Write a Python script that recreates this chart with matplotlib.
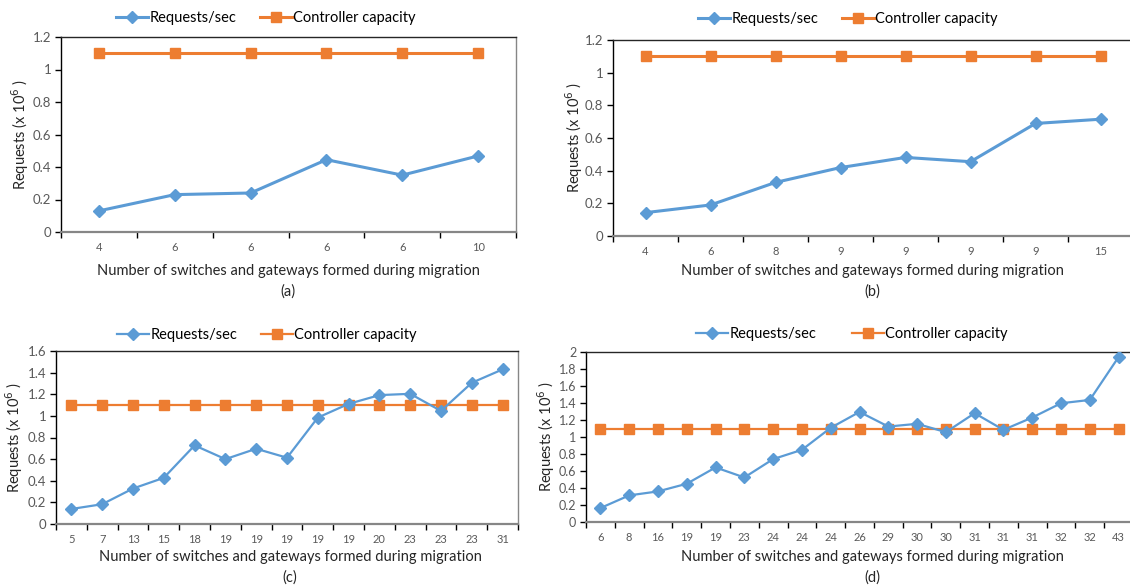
import matplotlib
matplotlib.use("Agg")
import matplotlib.pyplot as plt
from matplotlib.ticker import FuncFormatter, FixedLocator

plt.rcParams['font.family'] = ['Lato', 'DejaVu Sans']

# ---------------- data ----------------
labels_a = ["4", "6", "6", "6", "6", "10"]
req_a = [0.13, 0.23, 0.24, 0.445, 0.35, 0.468]
cap_a = [1.1, 1.1, 1.1, 1.1, 1.1, 1.1]

labels_b = ["4", "6", "8", "9", "9", "9", "9", "15"]
req_b = [0.143, 0.19, 0.328, 0.419, 0.481, 0.455, 0.689, 0.715]
cap_b = [1.1, 1.1, 1.1, 1.1, 1.1, 1.1, 1.1, 1.1]

labels_c = ["5", "7", "13", "15", "18", "19", "19", "19", "19", "19", "20", "23", "23", "23", "31"]
req_c = [0.139, 0.183, 0.328, 0.427, 0.727, 0.600, 0.696, 0.613, 0.984, 1.111, 1.192, 1.204, 1.046, 1.306, 1.430]
cap_c = [1.1] * 15

labels_d = ["6", "8", "16", "19", "19", "23", "24", "24", "24", "26", "29", "30", "30", "31", "31", "31", "32", "32", "43"]
req_d = [0.164, 0.313, 0.360, 0.450, 0.642, 0.524, 0.740, 0.849, 1.108, 1.295, 1.123, 1.155, 1.057, 1.280, 1.084, 1.229, 1.397, 1.436, 1.941]
cap_d = [1.1] * 19

ylims = {"a": (1.2, 0.2), "b": (1.2, 0.2), "c": (1.6, 0.2), "d": (2.0, 0.2)}

BLUE = "#5B9BD5"
ORANGE = "#ED7D31"
GREY = "#595959"

W, H = 1130, 588
fig = plt.figure(figsize=(W / 100, H / 100), dpi=100)


def box(l, t, r, b):
    return [l / W, 1 - b / H, (r - l) / W, (b - t) / H]


panels = [
    # key, labels, req, cap, axes box (l,t,r,b), right spine, legend center, xlabel center, lw, ylabel x(px), ytick fs
    ("a", labels_a, req_a, cap_a, (61, 37, 516, 232), True, (266, 18), (288, 271), 2.2, 20, 9.5),
    ("b", labels_b, req_b, cap_b, (613, 40, 1133, 236), False, (848, 19), (872, 271), 2.2, 574, 9.5),
    ("c", labels_c, req_c, cap_c, (56, 351, 518, 524), True, (267, 335), (290, 557), 1.6, 14, 9.5),
    ("d", labels_d, req_d, cap_d, (586, 352, 1133, 522), False, (852, 334), (872, 557), 1.6, 546, 9),
]

for key, labs, req, cap, bx, rspine, legc, xlc, lw, ylx, yfs in panels:
    ax = fig.add_axes(box(*bx))
    n = len(labs)
    x = list(range(n))
    ax.plot(x, req, color=BLUE, lw=lw, marker="D", markersize=6,
            markeredgecolor=BLUE, label="Requests/sec", zorder=3)
    ax.plot(x, cap, color=ORANGE, lw=lw, marker="s", markersize=7,
            markeredgecolor=ORANGE, label="Controller capacity", zorder=2)
    ax.set_xlim(-0.5, n - 0.5)
    top, step = ylims[key]
    ax.set_ylim(0, top)
    nt = int(round(top / step))
    ax.yaxis.set_major_locator(FixedLocator([i * step for i in range(nt + 1)]))
    ax.yaxis.set_major_formatter(FuncFormatter(lambda v, p: f"{round(v, 2):g}"))
    ax.set_xticks(x)
    ax.set_xticklabels(labs)
    ax.xaxis.set_minor_locator(FixedLocator([i - 0.5 for i in range(n + 1)]))
    ax.tick_params(axis="x", which="major", length=0, pad=7, labelsize=8, labelcolor=GREY)
    ax.tick_params(axis="x", which="minor", length=4, width=1, direction="out", color="black")
    ax.tick_params(axis="y", length=4, width=1, labelsize=yfs, labelcolor=GREY, pad=3)
    ax.spines["left"].set_color("black")
    ax.spines["left"].set_linewidth(1.0)
    ax.spines["bottom"].set_color("#868686")
    ax.spines["bottom"].set_linewidth(1.6)
    ax.spines["top"].set_color("#262626")
    ax.spines["top"].set_linewidth(1.0)
    ax.spines["right"].set_visible(rspine)
    ax.spines["right"].set_color("#868686")
    ax.spines["right"].set_linewidth(1.0)
    ax.set_ylabel("Requests (x 10$^6$ )", fontsize=10.5, color="#262626")
    # place y label at measured horizontal pixel position (centre of the rotated text)
    ax.yaxis.set_label_coords((ylx - bx[0]) / (bx[2] - bx[0]), 0.5)
    ax.yaxis.label.set_va("center")
    ax.legend(loc="center", bbox_to_anchor=(legc[0] / W, 1 - legc[1] / H),
              bbox_transform=fig.transFigure, ncol=2, frameon=False, fontsize=10.5,
              handlelength=2.2, handletextpad=0.1, columnspacing=1.6 if key != "d" else 2.4,
              markerscale=1.0)
    fig.text(xlc[0] / W, 1 - xlc[1] / H, "Number of switches and gateways formed during migration",
             ha="center", va="center", fontsize=10.5, color="#262626")
    fig.text(xlc[0] / W, 1 - (xlc[1] + 21) / H, f"({key})",
             ha="center", va="center", fontsize=10.5, color="#262626")

fig.savefig("out.png", dpi=100)
